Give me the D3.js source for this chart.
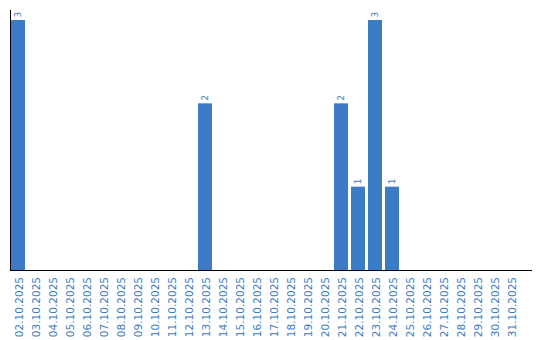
<!DOCTYPE html>
<html>
<head>
<meta charset="utf-8">
<script src="https://cdn.jsdelivr.net/npm/d3@7"></script>
<style>
  body { margin: 0; background: #fff; }
</style>
</head>
<body>
<svg id="chart" width="540" height="340"></svg>
<script>
'use strict';

// Chart data
var days = ['02.10.2025', '03.10.2025', '04.10.2025', '05.10.2025', '06.10.2025',
    '07.10.2025', '08.10.2025', '09.10.2025', '10.10.2025', '11.10.2025',
    '12.10.2025', '13.10.2025', '14.10.2025', '15.10.2025', '16.10.2025',
    '17.10.2025', '18.10.2025', '19.10.2025', '20.10.2025', '21.10.2025',
    '22.10.2025', '23.10.2025', '24.10.2025', '25.10.2025', '26.10.2025',
    '27.10.2025', '28.10.2025', '29.10.2025', '30.10.2025', '31.10.2025'];

var counts = [3, 0, 0, 0, 0, 0, 0, 0, 0, 0,
    0, 2, 0, 0, 0, 0, 0, 0, 0, 2,
    1, 3, 1, 0, 0, 0, 0, 0, 0, 0];

var yMax = 3;

var BLUE = '#3b7cc4',
    FONT = '"DejaVu Sans", Verdana, sans-serif';

var svg = d3.select('#chart');

var x = d3.scaleBand()
    .domain(days)
    .range([9.5, 519.5])
    .paddingInner(3 / 17)
    .paddingOuter(1.5 / 17);

var y = d3.scaleLinear()
    .domain([0, yMax])
    .range([270, 20]);

var data = days.map(function (d, i) { return {day: d, value: counts[i]}; });

// Bars
svg.append('g')
    .selectAll('rect')
    .data(data.filter(function (d) { return d.value > 0; }))
    .join('rect')
    .attr('x', function (d) { return x(d.day); })
    .attr('y', function (d) { return y(d.value); })
    .attr('width', x.bandwidth())
    .attr('height', function (d) { return y(0) - y(d.value); })
    .attr('fill', BLUE);

// Value labels above bars
svg.append('g')
    .selectAll('text')
    .data(data.filter(function (d) { return d.value > 0; }))
    .join('text')
    .attr('transform', function (d) {
        return 'translate(' + (x(d.day) + x.bandwidth() / 2 + 3.3) + ',' + (y(d.value) - 2.5) + ') rotate(-90)';
    })
    .attr('font-family', FONT)
    .attr('font-size', '9px')
    .attr('fill', BLUE)
    .text(function (d) { return d.value; });

// X axis
var xAxis = svg.append('g')
    .attr('transform', 'translate(0,270)')
    .call(d3.axisBottom(x).tickSize(0).tickPadding(0));

xAxis.select('.domain').remove();
xAxis.selectAll('text')
    .attr('transform', 'translate(4.5,7) rotate(-90)')
    .attr('text-anchor', 'end')
    .attr('dy', 0)
    .attr('y', 0)
    .attr('font-family', FONT)
    .attr('font-size', '10.5px')
    .attr('fill', BLUE);

svg.append('line')
    .attr('x1', 10).attr('x2', 532)
    .attr('y1', 270.5).attr('y2', 270.5)
    .attr('stroke', '#000');

// Y axis line
svg.append('line')
    .attr('x1', 10.5).attr('x2', 10.5)
    .attr('y1', 10).attr('y2', 271)
    .attr('stroke', '#000');
</script>
</body>
</html>
